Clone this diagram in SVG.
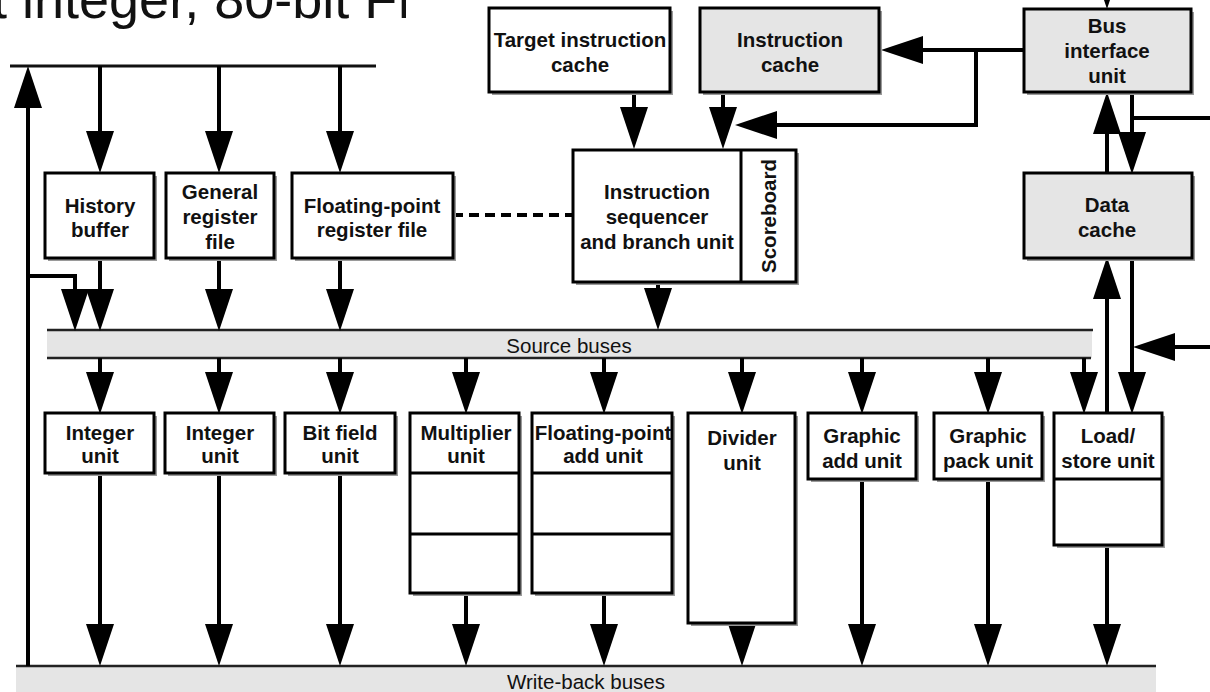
<svg xmlns="http://www.w3.org/2000/svg" width="1210" height="692" viewBox="0 0 1210 692">
<style>
.box{fill:#fff;stroke:#000;stroke-width:3}
.gbox{fill:#e5e5e5;stroke:#000;stroke-width:3}
.sh{fill:#9a9a9a}
.t{font-family:"Liberation Sans",Arial,sans-serif;font-weight:bold;font-size:20.5px;text-anchor:middle;fill:#111}
.bt{font-family:"Liberation Sans",Arial,sans-serif;font-size:20.5px;text-anchor:middle;fill:#111}
.c{fill:none;stroke:#000;stroke-width:4}
.ca{fill:none;stroke:#000;stroke-width:4;marker-end:url(#ah)}
.div{stroke:#000;stroke-width:3}
</style>
<defs>
<marker id="ah" markerUnits="userSpaceOnUse" markerWidth="42" markerHeight="28" viewBox="0 0 42 28" refX="0" refY="14" orient="auto" overflow="visible">
<path d="M0,0 L42,14 L0,28 Z" fill="#000"/>
</marker>
<clipPath id="tclip"><rect x="0" y="0" width="406" height="40"/></clipPath>
</defs>
<rect width="1210" height="692" fill="#fff"/>
<text x="-8" y="18" clip-path="url(#tclip)" style="font-family:'Liberation Sans',Arial,sans-serif;font-size:54px;fill:#111">t integer, 80-bit FP</text>

<g id="source-buses">
<rect x="47" y="330" width="1045" height="28" fill="#e5e5e5"/>
<line x1="47" y1="330" x2="1093" y2="330" stroke="#222" stroke-width="2.5"/>
<line x1="47" y1="358" x2="1091" y2="358" stroke="#222" stroke-width="2.5"/>
<text class="bt" x="569" y="353">Source buses</text>
</g>
<g id="write-back-buses">
<rect x="16" y="666" width="1140" height="26" fill="#e5e5e5"/>
<line x1="16" y1="666" x2="1156" y2="666" stroke="#222" stroke-width="2.5"/>
<text class="bt" x="586" y="689">Write-back buses</text>
</g>

<g id="connectors">
<line x1="10" y1="66" x2="376" y2="66" stroke="#111" stroke-width="3"/>
<path class="ca" d="M28,666 V108"/>
<path class="ca" d="M28,276 H75 V289"/>
<path class="ca" d="M100,66 V131"/>
<path class="ca" d="M219,66 V131"/>
<path class="ca" d="M340,66 V131"/>
<path class="ca" d="M100,258 V289"/>
<path class="ca" d="M219,258 V289"/>
<path class="ca" d="M340,258 V289"/>
<path class="ca" d="M634,92 V107"/>
<path class="ca" d="M723,92 V107"/>
<path class="ca" d="M1024,50 H923"/>
<path class="ca" d="M976,50 V125 H777"/>
<path class="ca" d="M658,282 V288"/>
<path d="M453,215 H573" fill="none" stroke="#000" stroke-width="4" stroke-dasharray="10,6"/>
<path class="ca" d="M100,358 V372"/>
<path class="ca" d="M219,358 V372"/>
<path class="ca" d="M340,358 V372"/>
<path class="ca" d="M466,358 V372"/>
<path class="ca" d="M604,358 V372"/>
<path class="ca" d="M742,358 V372"/>
<path class="ca" d="M862,358 V372"/>
<path class="ca" d="M988,358 V372"/>
<path class="ca" d="M1084,358 V372"/>
<path class="ca" d="M100,473 V624"/>
<path class="ca" d="M219,473 V624"/>
<path class="ca" d="M340,473 V624"/>
<path class="ca" d="M466,593 V624"/>
<path class="ca" d="M604,593 V624"/>
<path class="ca" d="M742,620 V624"/>
<path class="ca" d="M862,479 V624"/>
<path class="ca" d="M988,479 V624"/>
<path class="ca" d="M1107,545 V624"/>
<path class="ca" d="M1107,173 V134"/>
<path class="ca" d="M1132,92 V132"/>
<path class="c" d="M1132,118 H1210"/>
<path class="ca" d="M1107,413 V299"/>
<path class="ca" d="M1132,258 V372"/>
<path class="ca" d="M1210,347 H1175"/>
<path d="M1093,-33 L1121,-33 L1107,9 Z" fill="#000"/>
</g>

<g id="history-buffer">
<rect class="sh" x="48" y="176" width="109" height="85"/>
<rect class="box" x="45" y="173" width="109" height="85"/>
<text class="t" x="100" y="213">History</text>
<text class="t" x="100" y="237">buffer</text>
</g>
<g id="general-register-file">
<rect class="sh" x="169" y="176" width="108" height="85"/>
<rect class="box" x="166" y="173" width="108" height="85"/>
<text class="t" x="220" y="199">General</text>
<text class="t" x="220" y="224">register</text>
<text class="t" x="220" y="249">file</text>
</g>
<g id="fp-register-file">
<rect class="sh" x="295" y="176" width="161" height="85"/>
<rect class="box" x="292" y="173" width="161" height="85"/>
<text class="t" x="372" y="213">Floating-point</text>
<text class="t" x="372" y="237">register file</text>
</g>
<g id="target-instruction-cache">
<rect class="sh" x="492" y="11" width="181" height="84"/>
<rect class="box" x="489" y="8" width="181" height="84"/>
<text class="t" x="580" y="47">Target instruction</text>
<text class="t" x="580" y="72">cache</text>
</g>
<g id="instruction-cache">
<rect class="sh" x="703" y="11" width="179" height="84"/>
<rect class="gbox" x="700" y="8" width="179" height="84"/>
<text class="t" x="790" y="47">Instruction</text>
<text class="t" x="790" y="72">cache</text>
</g>
<g id="bus-interface-unit">
<rect class="sh" x="1027" y="12" width="167" height="83"/>
<rect class="gbox" x="1024" y="9" width="167" height="83"/>
<text class="t" x="1107" y="33">Bus</text>
<text class="t" x="1107" y="58">interface</text>
<text class="t" x="1107" y="83">unit</text>
</g>
<g id="data-cache">
<rect class="sh" x="1027" y="176" width="168" height="85"/>
<rect class="gbox" x="1024" y="173" width="168" height="85"/>
<text class="t" x="1107" y="212">Data</text>
<text class="t" x="1107" y="237">cache</text>
</g>
<g id="instruction-sequencer">
<rect class="sh" x="576" y="153" width="223" height="132"/>
<rect class="box" x="573" y="150" width="223" height="132"/>
<line class="div" x1="741" y1="150" x2="741" y2="282"/>
<text class="t" x="657" y="199">Instruction</text>
<text class="t" x="657" y="224">sequencer</text>
<text class="t" x="657" y="249">and branch unit</text>
<text class="t" transform="translate(776,216) rotate(-90)">Scoreboard</text>
</g>

<g id="integer-unit-1">
<rect class="sh" x="48" y="416" width="109" height="60"/>
<rect class="box" x="45" y="413" width="109" height="60"/>
<text class="t" x="100" y="440">Integer</text>
<text class="t" x="100" y="463">unit</text>
</g>
<g id="integer-unit-2">
<rect class="sh" x="168" y="416" width="109" height="60"/>
<rect class="box" x="165" y="413" width="109" height="60"/>
<text class="t" x="220" y="440">Integer</text>
<text class="t" x="220" y="463">unit</text>
</g>
<g id="bit-field-unit">
<rect class="sh" x="288" y="416" width="110" height="60"/>
<rect class="box" x="285" y="413" width="110" height="60"/>
<text class="t" x="340" y="440">Bit field</text>
<text class="t" x="340" y="463">unit</text>
</g>
<g id="multiplier-unit">
<rect class="sh" x="413" y="416" width="109" height="180"/>
<rect class="box" x="410" y="413" width="109" height="180"/>
<line class="div" x1="410" y1="473" x2="519" y2="473"/>
<line class="div" x1="410" y1="534" x2="519" y2="534"/>
<text class="t" x="466" y="440">Multiplier</text>
<text class="t" x="466" y="463">unit</text>
</g>
<g id="fp-add-unit">
<rect class="sh" x="535" y="416" width="140" height="180"/>
<rect class="box" x="532" y="413" width="140" height="180"/>
<line class="div" x1="532" y1="473" x2="672" y2="473"/>
<line class="div" x1="532" y1="534" x2="672" y2="534"/>
<text class="t" x="603" y="440">Floating-point</text>
<text class="t" x="603" y="463">add unit</text>
</g>
<g id="divider-unit">
<rect class="sh" x="691" y="416" width="107" height="210"/>
<rect class="box" x="688" y="413" width="107" height="210"/>
<text class="t" x="742" y="445">Divider</text>
<text class="t" x="742" y="470">unit</text>
</g>
<g id="graphic-add-unit">
<rect class="sh" x="811" y="416" width="108" height="66"/>
<rect class="box" x="808" y="413" width="108" height="66"/>
<text class="t" x="862" y="443">Graphic</text>
<text class="t" x="862" y="468">add unit</text>
</g>
<g id="graphic-pack-unit">
<rect class="sh" x="937" y="416" width="108" height="66"/>
<rect class="box" x="934" y="413" width="108" height="66"/>
<text class="t" x="988" y="443">Graphic</text>
<text class="t" x="988" y="468">pack unit</text>
</g>
<g id="load-store-unit">
<rect class="sh" x="1057" y="416" width="108" height="132"/>
<rect class="box" x="1054" y="413" width="108" height="132"/>
<line class="div" x1="1054" y1="479" x2="1162" y2="479"/>
<text class="t" x="1108" y="443">Load/</text>
<text class="t" x="1108" y="468">store unit</text>
</g>
</svg>
